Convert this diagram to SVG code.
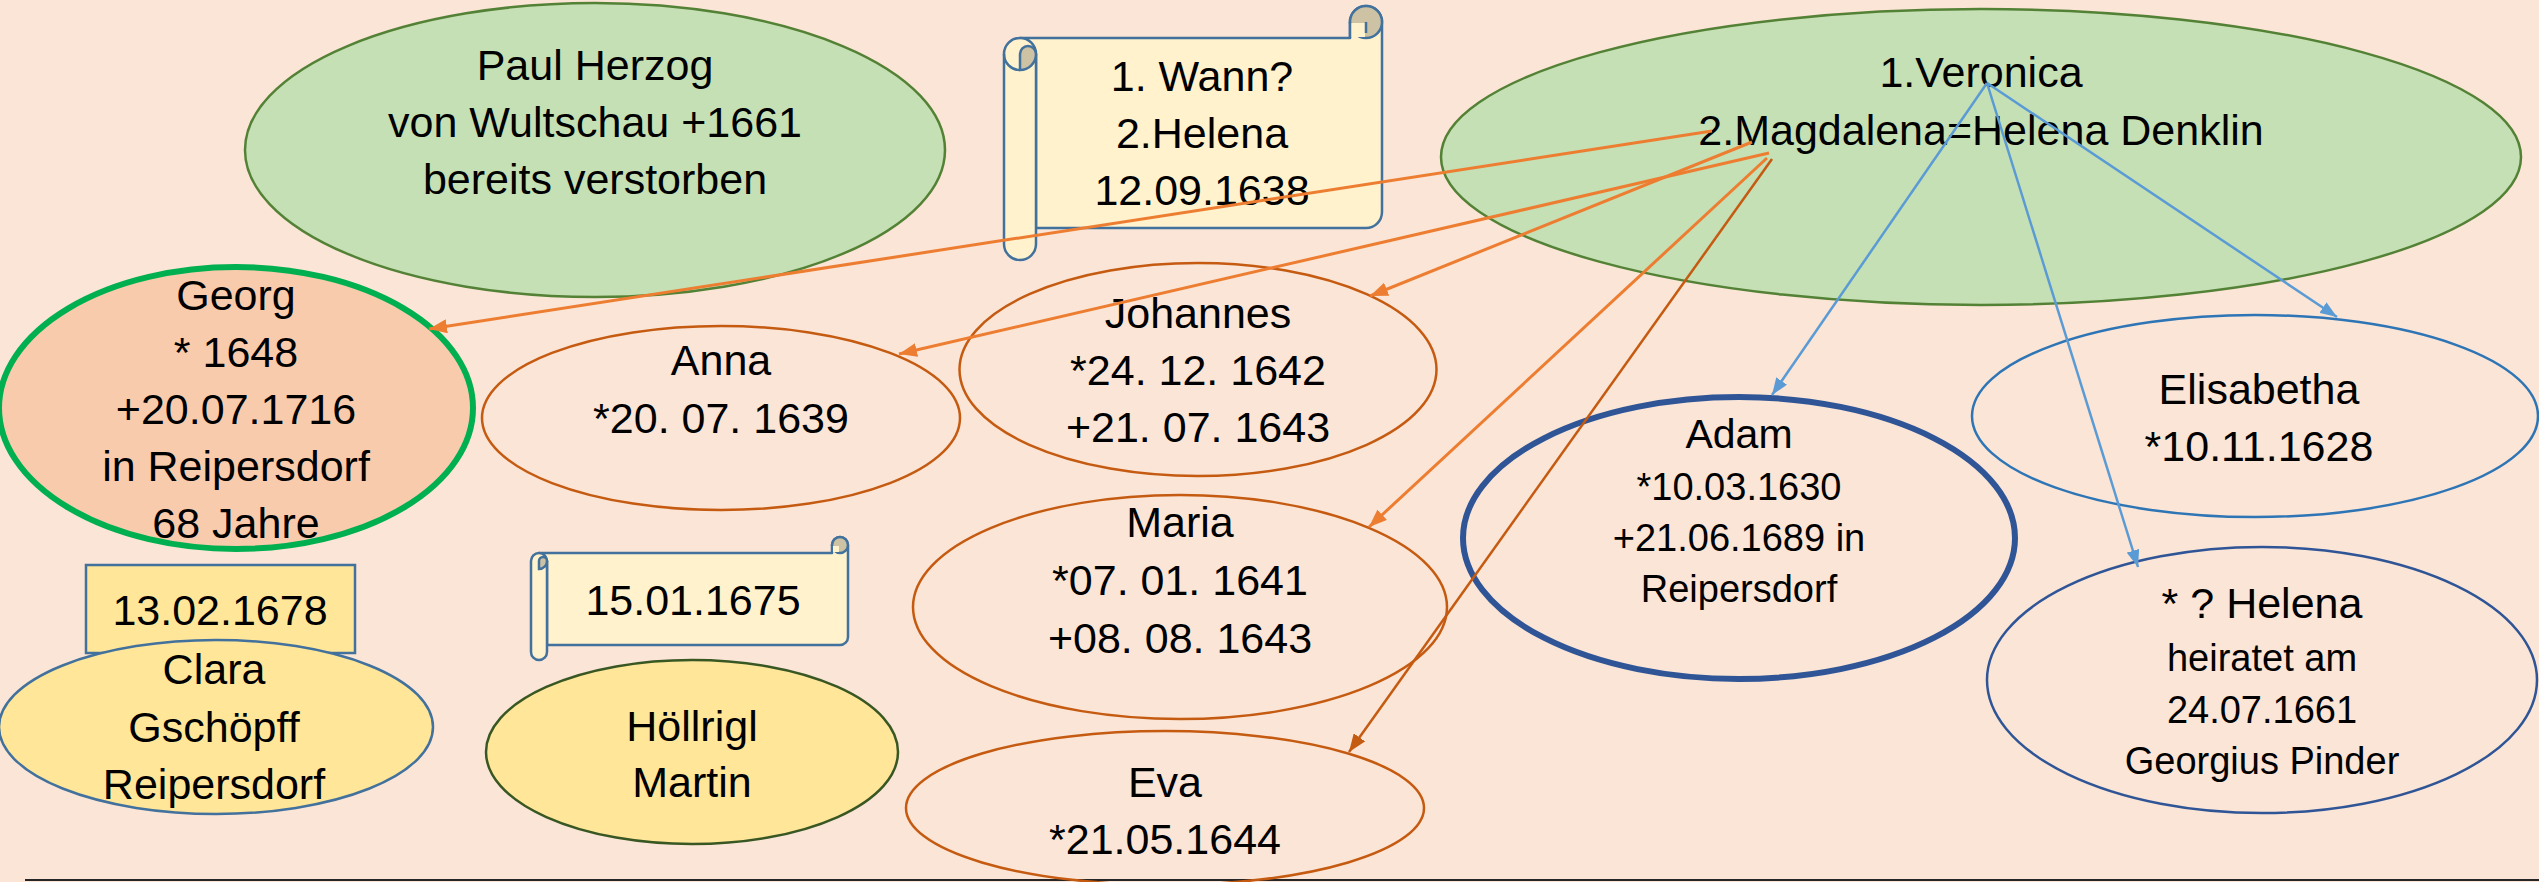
<svg xmlns="http://www.w3.org/2000/svg" width="2539" height="882" viewBox="0 0 2539 882">
<defs>
<style>
.t{font-family:"Liberation Sans",Arial,sans-serif;font-size:43px;fill:#000;text-anchor:middle}
.s{font-size:38px}
.green{fill:#C5E0B4;stroke:#538135;stroke-width:2.5}
.child{fill:none;stroke:#C55A11;stroke-width:2.5}
.scroll{fill:#FFF2CC;stroke:#41719C;stroke-width:2.5;stroke-linejoin:round}
.curl{fill:#CDC2A3;stroke:#41719C;stroke-width:2.5}
.yel{fill:#FFE699;stroke-width:2.5}
.lo{stroke:#ED7D31;stroke-width:3;fill:none}
.ld{stroke:#C55A11;stroke-width:2.5;fill:none}
.lb{stroke:#5B9BD5;stroke-width:2.5;fill:none}
</style>
<marker id="ao" markerUnits="userSpaceOnUse" markerWidth="18" markerHeight="14" refX="18" refY="7" orient="auto"><path d="M0,0 L18,7 L0,14 Z" fill="#ED7D31"/></marker>
<marker id="ad" markerUnits="userSpaceOnUse" markerWidth="18" markerHeight="14" refX="18" refY="7" orient="auto"><path d="M0,0 L18,7 L0,14 Z" fill="#C55A11"/></marker>
<marker id="ab" markerUnits="userSpaceOnUse" markerWidth="17" markerHeight="13" refX="17" refY="6.5" orient="auto"><path d="M0,0 L17,6.5 L0,13 Z" fill="#5B9BD5"/></marker>
</defs>
<rect width="2539" height="882" fill="#FBE5D6"/>
<g id="bottom-line"><line x1="25" y1="880" x2="2539" y2="880" stroke="#262626" stroke-width="2"/></g>

<g id="paul">
<ellipse class="green" cx="595" cy="150" rx="350" ry="147"/>
<text class="t" x="595" y="80">Paul Herzog</text>
<text class="t" x="595" y="137">von Wultschau +1661</text>
<text class="t" x="595" y="194">bereits verstorben</text>
</g>

<g id="veronica">
<ellipse class="green" cx="1981" cy="157" rx="540" ry="148"/>
<text class="t" x="1981" y="87">1.Veronica</text>
<text class="t" x="1981" y="145">2.Magdalena=Helena Denklin</text>
</g>

<g id="scroll-heirat">
<path class="scroll" d="M1020,38 H1350 V22 A16,16 0 0 1 1382,22 V212 A16,16 0 0 1 1366,228 H1036 V54 Z"/>
<circle class="curl" cx="1366" cy="22" r="16"/>
<rect x="1351" y="23" width="14" height="14" fill="#FFF2CC"/>
<path d="M1350,22 V38 M1366,22 V33" stroke="#41719C" stroke-width="2.5" fill="none"/>
<path class="scroll" d="M1004,54 V244 A16,16 0 0 0 1036,244 V54 A16,16 0 0 0 1004,54 Z"/>
<path d="M1020,70 V54 A8,8 0 0 1 1036,54 A16,16 0 0 1 1020,70 Z" class="curl"/>
<path d="M1004,54 A16,16 0 0 0 1020,70" stroke="#41719C" stroke-width="2.5" fill="none"/>
<text class="t" x="1202" y="91">1. Wann?</text>
<text class="t" x="1202" y="148">2.Helena</text>
<text class="t" x="1202" y="205">12.09.1638</text>
</g>

<g id="georg">
<ellipse cx="236" cy="408" rx="237" ry="141" fill="#F8CBAD" stroke="#00B050" stroke-width="6"/>
<text class="t" x="236" y="310">Georg</text>
<text class="t" x="236" y="367">* 1648</text>
<text class="t" x="236" y="424">+20.07.1716</text>
<text class="t" x="236" y="481">in Reipersdorf</text>
<text class="t" x="236" y="538">68 Jahre</text>
</g>

<g id="anna">
<ellipse class="child" cx="721" cy="418" rx="239" ry="92"/>
<text class="t" x="721" y="375">Anna</text>
<text class="t" x="721" y="433">*20. 07. 1639</text>
</g>

<g id="johannes">
<ellipse class="child" cx="1198" cy="369.5" rx="238.5" ry="106.5"/>
<text class="t" x="1198" y="328">Johannes</text>
<text class="t" x="1198" y="385">*24. 12. 1642</text>
<text class="t" x="1198" y="442">+21. 07. 1643</text>
</g>

<g id="maria">
<ellipse class="child" cx="1180" cy="607" rx="267" ry="112"/>
<text class="t" x="1180" y="537">Maria</text>
<text class="t" x="1180" y="595">*07. 01. 1641</text>
<text class="t" x="1180" y="653">+08. 08. 1643</text>
</g>

<g id="eva">
<ellipse class="child" cx="1165" cy="808" rx="259" ry="77"/>
<text class="t" x="1165" y="797">Eva</text>
<text class="t" x="1165" y="854">*21.05.1644</text>
</g>

<g id="adam">
<ellipse cx="1739" cy="538" rx="276" ry="141" fill="none" stroke="#2F5597" stroke-width="6"/>
<text class="t" x="1739" y="448" style="font-size:41px">Adam</text>
<text class="t s" x="1739" y="500">*10.03.1630</text>
<text class="t s" x="1739" y="551">+21.06.1689 in</text>
<text class="t s" x="1739" y="602">Reipersdorf</text>
</g>

<g id="elisabetha">
<ellipse cx="2255" cy="416" rx="283" ry="101" fill="none" stroke="#2E75B6" stroke-width="2.5"/>
<text class="t" x="2259" y="404">Elisabetha</text>
<text class="t" x="2259" y="461">*10.11.1628</text>
</g>

<g id="helena">
<ellipse cx="2262" cy="680" rx="275" ry="133" fill="none" stroke="#2F5597" stroke-width="2.5"/>
<text class="t" x="2262" y="618">* ? Helena</text>
<text class="t s" x="2262" y="671">heiratet am</text>
<text class="t s" x="2262" y="723">24.07.1661</text>
<text class="t s" x="2262" y="774">Georgius Pinder</text>
</g>

<g id="clara">
<rect x="86" y="565" width="269" height="88" class="yel" stroke="#41719C"/>
<text class="t" x="220" y="625">13.02.1678</text>
<ellipse cx="216" cy="727" rx="217" ry="87" class="yel" stroke="#41719C"/>
<text class="t" x="214" y="684">Clara</text>
<text class="t" x="214" y="742">Gschöpff</text>
<text class="t" x="214" y="799">Reipersdorf</text>
</g>

<g id="hoellrigl">
<path class="scroll" d="M539,553 H832 V545 A8,8 0 0 1 848,545 V637 A8,8 0 0 1 840,645 H547 V561 Z"/>
<circle class="curl" cx="840" cy="545" r="8" stroke-width="2"/>
<rect x="833" y="546" width="6" height="6" fill="#FFF2CC"/>
<path d="M832,545 V553" stroke="#41719C" stroke-width="2" fill="none"/>
<path class="scroll" d="M531,561 V652 A8,8 0 0 0 547,652 V561 A8,8 0 0 0 531,561 Z" stroke-width="2"/>
<path d="M539,569 V561 A4,4 0 0 1 547,561 A8,8 0 0 1 539,569 Z" class="curl" stroke-width="2"/>
<text class="t" x="693" y="615">15.01.1675</text>
<ellipse cx="692" cy="752" rx="206" ry="92" class="yel" stroke="#385723"/>
<text class="t" x="692" y="741">Höllrigl</text>
<text class="t" x="692" y="797">Martin</text>
</g>

<g id="connectors">
<line class="lo" x1="1712" y1="131" x2="429" y2="329" marker-end="url(#ao)"/>
<line class="lo" x1="1752" y1="142" x2="1370" y2="296" marker-end="url(#ao)"/>
<line class="lo" x1="1769" y1="153" x2="899" y2="354" marker-end="url(#ao)"/>
<line class="lo" x1="1767" y1="158" x2="1369" y2="527" marker-end="url(#ao)"/>
<line class="ld" x1="1772" y1="159" x2="1349" y2="752" marker-end="url(#ad)"/>
<line class="lb" x1="1987" y1="83" x2="1772" y2="395" marker-end="url(#ab)"/>
<line class="lb" x1="1987" y1="83" x2="2337" y2="317" marker-end="url(#ab)"/>
<line class="lb" x1="1987" y1="83" x2="2138" y2="567" marker-end="url(#ab)"/>
</g>
</svg>
